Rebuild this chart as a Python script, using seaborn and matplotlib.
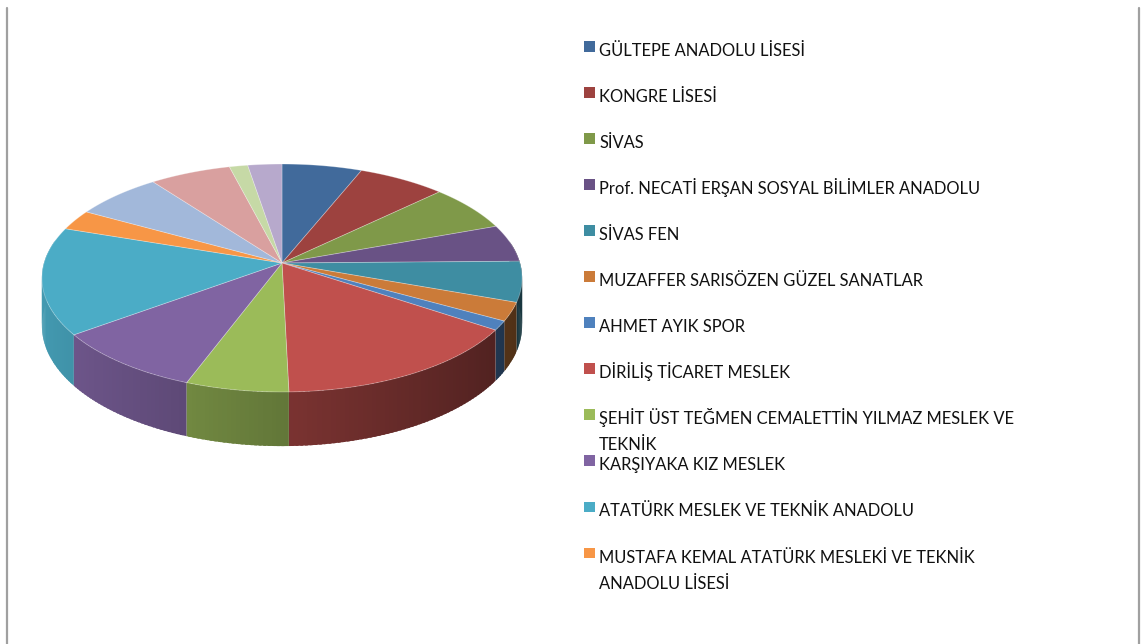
import numpy as np
import seaborn as sns
import matplotlib.pyplot as plt
from matplotlib.colors import to_rgb
from matplotlib.patches import Rectangle

# schools (legend only lists the first 12, the last four slices have no visible label)
schools = ["GÜLTEPE ANADOLU LİSESİ", "KONGRE LİSESİ", "SİVAS",
           "Prof. NECATİ ERŞAN SOSYAL BİLİMLER ANADOLU", "SİVAS FEN",
           "MUZAFFER SARISÖZEN GÜZEL SANATLAR", "AHMET AYIK SPOR",
           "DİRİLİŞ TİCARET MESLEK",
           "ŞEHİT ÜST TEĞMEN CEMALETTİN YILMAZ MESLEK VE\nTEKNİK",
           "KARŞIYAKA KIZ MESLEK", "ATATÜRK MESLEK VE TEKNİK ANADOLU",
           "MUSTAFA KEMAL ATATÜRK MESLEKİ VE TEKNİK\nANADOLU LİSESİ",
           "(13)", "(14)", "(15)", "(16)"]
shares = [6.1, 6.7, 6.6, 5.3, 5.7, 2.6, 1.3, 15.2, 6.1, 9.2, 15.2, 2.9,
          6.7, 6.2, 1.4, 2.6]
colors = ["#416A9B", "#9D423F", "#7F9949", "#695285", "#3E8DA2", "#CB7B39",
          "#4F81BD", "#C0504D", "#9BBB59", "#8064A2", "#4BACC6", "#F79646",
          "#A2B8DA", "#D9A09F", "#C6D9A6", "#B7A9CC"]
n_legend = 12

sns.set_theme(style="white")
plt.rcParams['font.family'] = ['Lato', 'DejaVu Sans']

fig = plt.figure(figsize=(11.41, 6.44), dpi=100)
ax = fig.add_axes([0, 0, 1, 1])
ax.set_xlim(0, 1141)
ax.set_ylim(644, 0)
ax.axis('off')

# 3d pie in perspective (pixel layout)
CX, CY, A, B, K, D = 282, 263, 238, 112, 0.1316, 47

def rim(th):
    t = np.radians(th)
    w = 1 + K * np.cos(t)
    return CX + A * np.sin(t) / w, CY - B * np.cos(t) / w, D / w

vals = np.array(shares)
edges = np.concatenate([[0], np.cumsum(vals) / vals.sum() * 360])

# side wall, back to front, small strips so the shading can vary
quads = []
for i in range(len(vals)):
    th = np.linspace(edges[i], edges[i + 1], int(edges[i + 1] - edges[i]) + 2)
    for a0, a1 in zip(th[:-1], th[1:]):
        mid = np.radians((a0 + a1) / 2)
        if np.cos(mid) > 0.2:
            continue
        last = a1 == th[-1]
        quads.append((-np.cos(mid), a0, a1 if last else a1 + 0.6, i))
quads.sort()
for _, a0, a1, i in quads:
    x0, y0, d0 = rim(a0)
    x1, y1, d1 = rim(a1)
    f = 0.64 - 0.26 * np.sin(np.radians((a0 + a1) / 2))
    c = np.clip(np.array(to_rgb(colors[i])) * f, 0, 1)
    ax.fill([x0, x1, x1, x0], [y0, y1, y1 + d1, y0 + d0], fc=c, lw=0)

# top faces
for i in range(len(vals)):
    th = np.linspace(edges[i], edges[i + 1], 80)
    x, y, _ = rim(th)
    ax.fill(np.r_[CX, x], np.r_[CY, y], fc=colors[i],
            ec=(1, 1, 1, 0.3), lw=0.6)

# legend
probe = ax.text(0, 0, schools[0], fontsize=12)
fig.canvas.draw()
fsize = 12 * 206 / probe.get_window_extent().width
probe.remove()

for i, lab in enumerate(schools[:n_legend]):
    base = 56 + 46.05 * i
    ax.add_patch(Rectangle((584, base - 15), 10.5, 10.5, color=colors[i], lw=0))
    for j, line in enumerate(lab.split('\n')):
        ax.text(599, base + 26 * j, line, fontsize=fsize, color='#111111',
                va='baseline', ha='left')

# frame lines
ax.plot([7, 7], [8, 644], color='#a0a0a0', lw=1.6)
ax.plot([1139, 1139], [8, 644], color='#a0a0a0', lw=1.6)

fig.savefig('out.png', dpi=100)
